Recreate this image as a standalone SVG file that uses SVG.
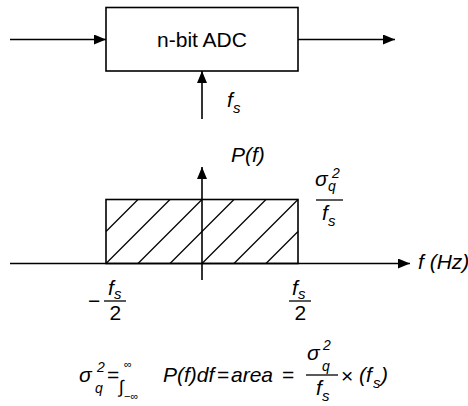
<svg xmlns="http://www.w3.org/2000/svg" width="468" height="406" viewBox="0 0 468 406">
<style>
.ln{stroke:#000;stroke-width:1.6;fill:none}
.h{stroke:#000;stroke-width:1.3;fill:none}
text{font-family:"Liberation Sans",Arial,sans-serif;fill:#000}
.t{font-size:21px}
.i{font-style:italic;font-size:21px}
.sm{font-style:italic;font-size:15px}
.sup{font-style:italic;font-size:14px}
.inf{font-size:11px}
</style>
<defs>
<marker id="ah" markerUnits="userSpaceOnUse" markerWidth="12" markerHeight="10" refX="12" refY="5" orient="auto">
<path d="M0,0 L12,5 L0,10 z" fill="#000"/>
</marker>
</defs>
<rect width="468" height="406" fill="#fff"/>
<g id="adc">
<rect x="106" y="7.5" width="192" height="63.5" class="ln"/>
<text class="t" x="202" y="47" text-anchor="middle">n-bit ADC</text>
</g>
<g id="connectors">
<line x1="10" y1="39.5" x2="106" y2="39.5" class="ln" marker-end="url(#ah)"/>
<line x1="298" y1="39.5" x2="395" y2="39.5" class="ln" marker-end="url(#ah)"/>
<line x1="202" y1="119" x2="202" y2="71" class="ln" marker-end="url(#ah)"/>
</g>
<g id="fs-label">
<text class="i" x="227" y="107">f</text><text class="sm" x="233" y="113">s</text>
</g>
<g id="plot">
<line x1="10" y1="263.5" x2="410" y2="263.5" class="ln" marker-end="url(#ah)"/>
<line x1="202" y1="280" x2="202" y2="167" class="ln" marker-end="url(#ah)"/>
<rect x="106" y="199.5" width="192" height="64" class="ln"/>
<g class="h">
<line x1="106" y1="231.5" x2="138" y2="199.5"/>
<line x1="106" y1="263.5" x2="170" y2="199.5"/>
<line x1="138" y1="263.5" x2="202" y2="199.5"/>
<line x1="170" y1="263.5" x2="234" y2="199.5"/>
<line x1="202" y1="263.5" x2="266" y2="199.5"/>
<line x1="234" y1="263.5" x2="298" y2="199.5"/>
<line x1="266" y1="263.5" x2="298" y2="231.5"/>
</g>
<text class="i" x="231" y="162">P(f)</text>
<text class="i" x="418" y="269">f (Hz)</text>
<text class="i" x="315" y="186">σ</text><text class="sup" x="332" y="178">2</text><text class="sup" x="328" y="191">q</text>
<line x1="316" y1="200" x2="343" y2="200" class="h"/>
<text class="i" x="322" y="220">f</text><text class="sm" x="328" y="226">s</text>
<text class="t" x="88" y="308">−</text>
<line x1="104" y1="301" x2="126" y2="301" class="h"/>
<text class="i" x="108" y="295">f</text><text class="sm" x="114" y="299">s</text>
<text class="t" x="109.5" y="320">2</text>
<line x1="289" y1="301" x2="311" y2="301" class="h"/>
<text class="i" x="292" y="295">f</text><text class="sm" x="298" y="299">s</text>
<text class="t" x="294.5" y="320">2</text>
</g>
<g id="equation">
<text class="i" x="79" y="382">σ</text><text class="sup" x="97" y="372">2</text><text class="sup" x="95" y="393">q</text>
<text class="t" x="107" y="382">=</text>
<text x="119" y="393" font-size="18px">∫</text>
<text class="inf" x="124" y="368">∞</text>
<text class="inf" x="124" y="400">−∞</text>
<text class="i" x="163" y="382">P(f)df</text>
<text class="t" x="217" y="382">=</text>
<text class="i" x="231" y="382">area</text>
<text class="t" x="282" y="382">=</text>
<text class="i" x="307" y="360">σ</text><text class="sup" x="323" y="350">2</text><text class="sup" x="322" y="371">q</text>
<line x1="306" y1="375" x2="338" y2="375" class="h"/>
<text class="i" x="316" y="395">f</text><text class="sm" x="322" y="401">s</text>
<text class="t" x="341" y="383">×</text>
<text class="i" x="359" y="382">(f</text><text class="sm" x="373" y="388">s</text><text class="i" x="381" y="382">)</text>
</g>
</svg>
